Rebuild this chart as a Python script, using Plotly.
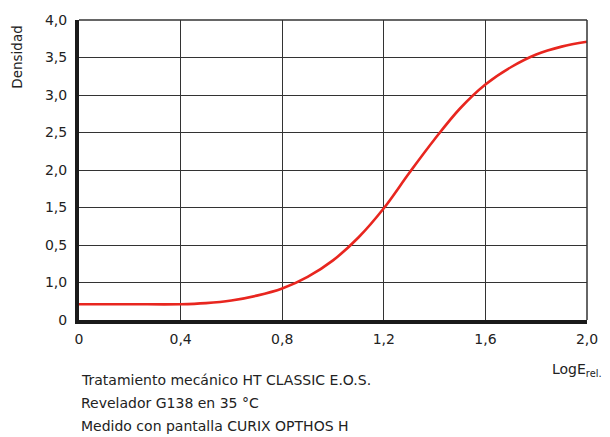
import plotly.graph_objects as go

# Data
log_e = [0.0, 0.2, 0.4, 0.5, 0.6, 0.7, 0.8, 0.9, 1.0, 1.1, 1.2, 1.3, 1.4, 1.5, 1.6, 1.7, 1.8, 1.9, 2.0]
density = [0.21, 0.21, 0.21, 0.225, 0.26, 0.325, 0.42, 0.575, 0.795, 1.10, 1.49, 1.96, 2.41, 2.82, 3.14, 3.37, 3.54, 3.645, 3.71]

x_tickvals = [0, 0.4, 0.8, 1.2, 1.6, 2.0]
x_ticktext = ["0", "0,4", "0,8", "1,2", "1,6", "2,0"]
y_tickvals = [0, 0.5, 1.0, 1.5, 2.0, 2.5, 3.0, 3.5, 4.0]
y_ticktext = ["0", "1,0", "0,5", "1,5", "2,0", "2,5", "3,0", "3,5", "4,0"]

notes = [
    "Tratamiento mecánico HT CLASSIC E.O.S.",
    "Revelador G138 en 35 °C",
    "Medido con pantalla CURIX OPTHOS H",
]

FONT = "DejaVu Sans"
TXT = "#222222"
GRID = "#333333"

fig = go.Figure()
fig.add_trace(go.Scatter(
    x=log_e, y=density, mode="lines",
    line=dict(color="#e8261f", width=2.6, shape="spline", smoothing=1.0),
    showlegend=False, hoverinfo="skip",
))

fig.update_layout(
    width=610, height=437,
    margin=dict(l=79, r=13, t=17, b=117),
    paper_bgcolor="white", plot_bgcolor="white",
    font=dict(family=FONT, size=14, color=TXT),
    xaxis=dict(
        range=[0, 2.0], tickvals=x_tickvals, ticktext=x_ticktext,
        showgrid=True, gridcolor=GRID, gridwidth=1,
        showline=True, linecolor="#1a1a1a", linewidth=4,
        zeroline=False, ticks="", ticklabelstandoff=3,
        tickfont=dict(family=FONT, size=14, color=TXT),
    ),
    yaxis=dict(
        range=[0, 4.0], tickvals=y_tickvals, ticktext=y_ticktext,
        showgrid=True, gridcolor=GRID, gridwidth=1,
        showline=True, linecolor="#1a1a1a", linewidth=4,
        zeroline=False, ticks="", ticklabelstandoff=5,
        tickfont=dict(family=FONT, size=14, color=TXT),
    ),
    shapes=[
        dict(type="line", xref="paper", yref="paper", x0=0, x1=1, y0=1, y1=1,
             line=dict(color="#333333", width=1.5)),
        dict(type="line", xref="paper", yref="paper", x0=1, x1=1, y0=0, y1=1,
             line=dict(color="#333333", width=1.5)),
    ],
)

annotations = [
    dict(text="Densidad", xref="paper", yref="paper", x=-0.1236, y=0.875,
         textangle=-90, showarrow=False, xanchor="center", yanchor="middle",
         font=dict(family=FONT, size=13.5, color=TXT)),
    dict(text="LogE<sub>rel.</sub>", xref="paper", yref="paper", x=1.034, y=-0.168,
         showarrow=False, xanchor="right", yanchor="middle",
         font=dict(family=FONT, size=14, color=TXT)),
]
for i, line in enumerate(notes):
    annotations.append(dict(
        text=line, xref="paper", yref="paper", x=0, y=-0.2013 - i * 0.0759,
        showarrow=False, xanchor="left", yanchor="middle",
        font=dict(family=FONT, size=14, color=TXT)))
fig.update_layout(annotations=annotations)

fig.write_html("out.html", config={"displayModeBar": False},
               post_script="document.body.style.margin='0px';document.body.style.overflow='hidden';")
